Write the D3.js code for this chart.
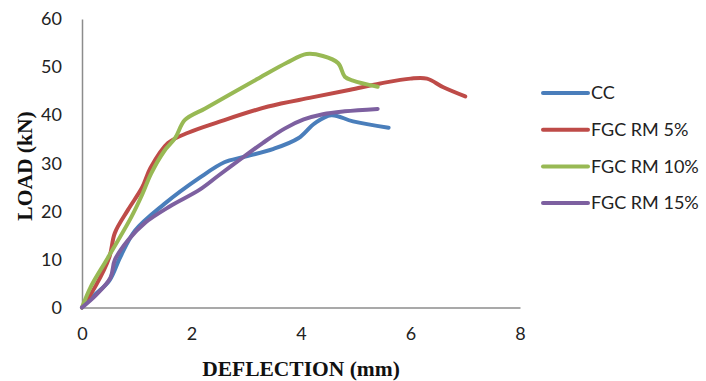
<!DOCTYPE html>
<html>
<head>
<meta charset="utf-8">
<script src="https://cdn.jsdelivr.net/npm/d3@7"></script>
<style>
  body { margin: 0; background: #fff; }
  .tick text { font-family: Lato, "Open Sans", sans-serif; font-size: 18px; fill: #222; }
  .axis-title { font-family: "Liberation Serif", "Times New Roman", serif; font-weight: bold; font-size: 21.5px; fill: #111; }
  .legend text { font-family: Lato, "Open Sans", sans-serif; font-size: 18px; fill: #222; }
</style>
</head>
<body>
<div id="chart"></div>
<script>
// chart size & margins
const width = 706,
    height = 381,
    margin = ({ top: 19, right: 186, bottom: 73, left: 82 });

// series names & colors
const seriesNames = ["CC", "FGC RM 5%", "FGC RM 10%", "FGC RM 15%"];
const seriesColors = ["#4a7ebb", "#be4b48", "#98b954", "#7d60a0"];

// deflection (mm) / load (kN)
const ccX = [0, 0.25, 0.5, 0.7, 0.97, 1.5, 2.15, 2.6, 2.95, 3.5, 3.95, 4.25, 4.55, 4.95, 5.6];
const ccY = [0, 2.8, 5.6, 10.5, 16, 21.5, 27, 30.2, 31.3, 33, 35.2, 38.3, 40, 38.7, 37.4];

const rm5X = [0, 0.25, 0.5, 0.6, 0.84, 1.1, 1.25, 1.57, 1.95, 2.5, 3.4, 4.2, 4.9, 5.45, 6.0, 6.3, 6.6, 7.0];
const rm5Y = [0, 4.5, 10.5, 15.5, 20.3, 25, 29, 34.2, 36.4, 38.6, 41.8, 43.7, 45.3, 46.6, 47.6, 47.6, 45.8, 43.9];

const rm10X = [0, 0.16, 0.47, 0.9, 1.1, 1.26, 1.5, 1.7, 1.88, 2.25, 2.7, 3.2, 3.74, 4.1, 4.4, 4.68, 4.8, 4.95, 5.4];
const rm10Y = [0, 4.3, 10.3, 18.8, 23.5, 27.8, 32.5, 35.2, 39, 41.4, 44.3, 47.5, 50.9, 52.7, 52.3, 50.8, 48, 47.2, 45.9];

const rm15X = [0, 0.25, 0.52, 0.6, 0.84, 1.15, 1.6, 2.15, 2.5, 2.95, 3.3, 3.7, 4.05, 4.4, 4.8, 5.4];
const rm15Y = [0, 2.5, 6.2, 9.9, 14, 17.6, 21, 24.5, 27.5, 31.3, 34.2, 37.2, 39.1, 40.2, 40.8, 41.3];

// x & y ticks
const xTicks = [0, 2, 4, 6, 8];
const yTicks = [0, 10, 20, 30, 40, 50, 60];

const allX = [ccX, rm5X, rm10X, rm15X];
const allY = [ccY, rm5Y, rm10Y, rm15Y];

const svg = d3.select("#chart")
    .append("svg")
    .attr("width", width)
    .attr("height", height);

let x = d3.scaleLinear()
    .domain([0, 8])
    .range([margin.left, 520]);
let y = d3.scaleLinear()
    .domain([0, 60])
    .range([height - margin.bottom - 0.5, margin.top]);

// y axis
const yAxis = svg.append("g")
    .attr("transform", `translate(${margin.left},0)`)
    .call(d3.axisLeft(y).tickValues(yTicks).tickSize(0).tickPadding(20));
yAxis.select(".domain").attr("stroke", "#8c8c8c").attr("stroke-width", 1.5);

// x axis
const xAxis = svg.append("g")
    .attr("transform", `translate(0,${y(0)})`)
    .call(d3.axisBottom(x).tickValues(xTicks).tickSize(0).tickPadding(20));
xAxis.select(".domain").attr("stroke", "#8c8c8c").attr("stroke-width", 1.5);

// axis titles
svg.append("text")
    .attr("class", "axis-title")
    .attr("text-anchor", "middle")
    .attr("x", 301)
    .attr("y", 376)
    .text("DEFLECTION (mm)");

svg.append("text")
    .attr("class", "axis-title")
    .attr("text-anchor", "middle")
    .attr("transform", "translate(32,166) rotate(-90)")
    .text("LOAD (kN)");

// lines
let line = d3.line()
    .x(d => x(d[0]))
    .y(d => y(d[1]))
    .curve(d3.curveCatmullRom.alpha(0.5));

seriesNames.forEach((name, i) => {
    const pts = allX[i].map((v, j) => [v, allY[i][j]]);
    svg.append("path")
        .datum(pts)
        .attr("d", line)
        .attr("fill", "none")
        .attr("stroke", seriesColors[i])
        .attr("stroke-width", 4)
        .attr("stroke-linecap", "round")
        .attr("stroke-linejoin", "round");
});

// legend
const legend = svg.append("g").attr("class", "legend");
seriesNames.forEach((name, i) => {
    const ly = 93 + i * 36.7;
    legend.append("line")
        .attr("x1", 543).attr("x2", 588)
        .attr("y1", ly).attr("y2", ly)
        .attr("stroke", seriesColors[i])
        .attr("stroke-width", 4)
        .attr("stroke-linecap", "round");
    legend.append("text")
        .attr("x", 591)
        .attr("y", ly)
        .attr("dy", "0.35em")
        .text(name);
});
</script>
</body>
</html>
